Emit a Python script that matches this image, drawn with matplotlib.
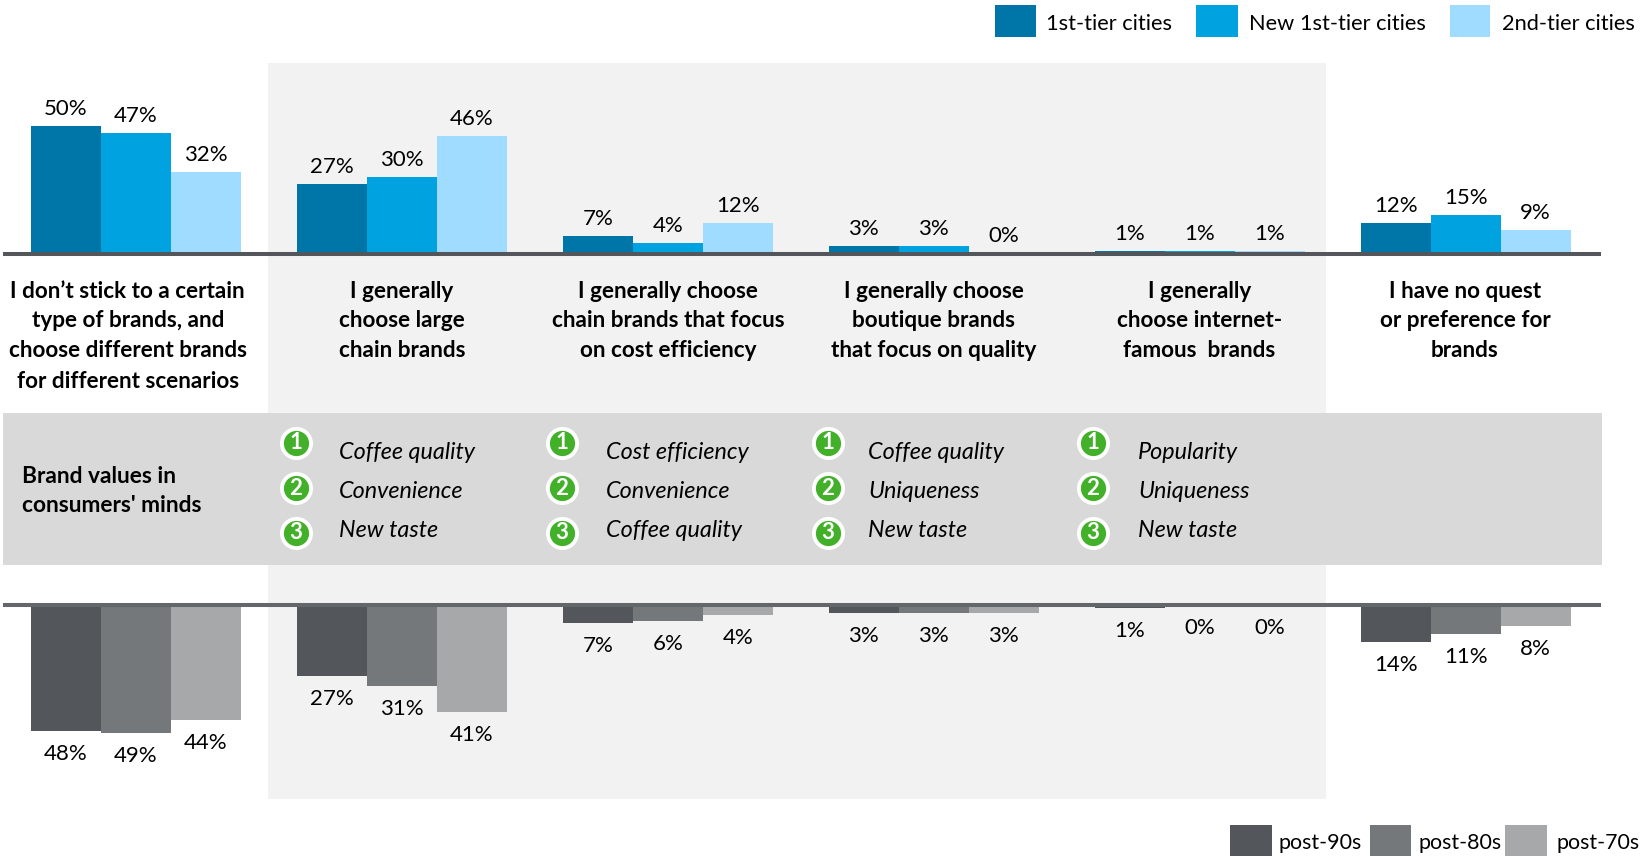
import matplotlib
matplotlib.use("Agg")
import matplotlib.pyplot as plt
from matplotlib.patches import Rectangle
import numpy as np

plt.rcParams['font.family'] = ['Lato', 'DejaVu Sans']

W, H = 1641, 856

categories = [
    ["I don\u2019t stick to a certain", "type of brands, and", "choose different brands", "for different scenarios"],
    ["I generally", "choose large", "chain brands"],
    ["I generally choose", "chain brands that focus", "on cost efficiency"],
    ["I generally choose", "boutique brands", "that focus on quality"],
    ["I generally", "choose internet-", "famous  brands"],
    ["I have no quest", "or preference for", "brands"],
]
city_names = ["1st-tier cities", "New 1st-tier cities", "2nd-tier cities"]
tier1 = [50, 27, 7, 3, 1, 12]
new_tier1 = [47, 30, 4, 3, 1, 15]
tier2 = [32, 46, 12, 0, 1, 9]

age_names = ["post-90s", "post-80s", "post-70s"]
post90 = [48, 27, 7, 3, 1, 14]
post80 = [49, 31, 6, 3, 0, 11]
post70 = [44, 41, 4, 3, 0, 8]

rank_title = ["Brand values in", "consumers' minds"]
rank1 = ["Coffee quality", "Cost efficiency", "Coffee quality", "Popularity"]
rank2 = ["Convenience", "Convenience", "Uniqueness", "Uniqueness"]
rank3 = ["New taste", "Coffee quality", "New taste", "New taste"]

city_colors = ['#0076A8', '#00A3E0', '#A0DCFF']
age_colors = ['#53565A', '#75787B', '#A7A8AA']


def px_axes(left, top, right, bottom):
    return fig.add_axes([left / W, 1 - bottom / H, (right - left) / W, (bottom - top) / H])


fig = plt.figure(figsize=(W / 100, H / 100), dpi=100)

# background bands, in pixel coordinates
bg = fig.add_axes([0, 0, 1, 1], zorder=0)
bg.set_xlim(0, W)
bg.set_ylim(H, 0)
bg.axis('off')
bg.add_patch(Rectangle((268, 63), 1058, 736, color='#F2F2F2', lw=0))
bg.add_patch(Rectangle((3, 413), 1599, 152, color='#D9D9D9', lw=0))

# bars
x = np.arange(6)
bar_w = 70 / 266
ax_top = px_axes(30.4, 100, 1571, 253.5)
ax_bot = px_axes(30.4, 605, 1571, 762)
for ax in (ax_top, ax_bot):
    ax.set_zorder(1)
    ax.patch.set_alpha(0)
    ax.set_xlim(-0.396, 5.396)
    ax.axis('off')
ax_top.set_ylim(0, 60)
ax_bot.set_ylim(60, 0)

for i, vals in enumerate([tier1, new_tier1, tier2]):
    bars = ax_top.bar(x + (i - 1) * bar_w, vals, bar_w, color=city_colors[i], lw=0)
    for b, v in zip(bars, vals):
        ax_top.annotate(f"{v}%", (b.get_x() + bar_w / 2, v), xytext=(0, 17),
                        textcoords='offset pixels', ha='center', va='center',
                        fontsize=16, color='black')

for i, vals in enumerate([post90, post80, post70]):
    bars = ax_bot.bar(x + (i - 1) * bar_w, vals, bar_w, color=age_colors[i], lw=0)
    for b, v in zip(bars, vals):
        ax_bot.annotate(f"{v}%", (b.get_x() + bar_w / 2, v), xytext=(0, -23),
                        textcoords='offset pixels', ha='center', va='center',
                        fontsize=16, color='black')

# everything else on top, also in pixel coordinates
fg = fig.add_axes([0, 0, 1, 1], zorder=2)
fg.patch.set_alpha(0)
fg.set_xlim(0, W)
fg.set_ylim(H, 0)
fg.axis('off')

fg.plot([3, 1601], [253.5, 253.5], color='#53565A', lw=2.9, solid_capstyle='butt')
fg.plot([3, 1601], [605, 605], color='#63666A', lw=2.9, solid_capstyle='butt')

cat_x = [127.7, 402, 668, 933.6, 1199.4, 1465]
line_y = [291, 320.5, 350.5, 381.5]
for cx, lines in zip(cat_x, categories):
    for ly, line in zip(line_y, lines):
        fg.text(cx, ly, line, ha='center', va='center', fontsize=16.2, fontweight='bold', color='black')

for ly, line in zip([476, 506], rank_title):
    fg.text(22, ly, line, ha='left', va='center', fontsize=16.4, fontweight='bold', color='black')

circle_x = [296, 562, 828, 1093]
text_x = [339, 606, 868, 1138]
circle_y = [442.5, 488, 532.6]
text_y = [452, 491, 530.5]
for n, names in enumerate([rank1, rank2, rank3]):
    for cx, tx, name in zip(circle_x, text_x, names):
        fg.scatter([cx], [circle_y[n]], s=440, color='#43B02A', edgecolor='white', linewidth=2.8, zorder=3)
        fg.text(cx, circle_y[n], str(n + 1), ha='center', va='center', fontsize=16,
                fontweight='bold', color='white', zorder=4)
        fg.text(tx, text_y[n], name, ha='left', va='center', fontsize=16.8, style='italic', color='black')

# legends
for left, width, tx, c, name in zip([995, 1196, 1450], [41, 42, 40], [1045.5, 1248.6, 1502], city_colors, city_names):
    fg.add_patch(Rectangle((left, 5), width, 32, color=c, lw=0))
    fg.text(tx, 24, name, ha='left', va='center', fontsize=15.7, color='black')
for left, width, tx, c, name in zip([1230, 1370, 1505], [42, 41, 42], [1278, 1418, 1556], age_colors, age_names):
    fg.add_patch(Rectangle((left, 825), width, 31, color=c, lw=0))
    fg.text(tx, 843, name, ha='left', va='center', fontsize=15.4, color='black')

fig.savefig('out.png', dpi=100)
